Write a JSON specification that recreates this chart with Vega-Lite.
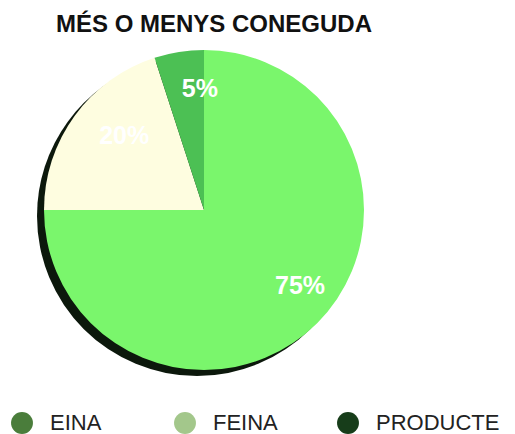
{
  "$schema": "https://vega.github.io/schema/vega-lite/v6.json",
  "width": 408,
  "height": 332,
  "padding": {"left": 0, "top": 13, "right": 0, "bottom": 0},
  "background": "white",
  "title": {"text": "MÉS O MENYS CONEGUDA", "font": "Liberation Sans", "fontSize": 24, "fontWeight": "bold", "color": "#111111", "anchor": "middle", "dx": 10, "offset": 7},
  "config": {"view": {"stroke": null}},
  "data": {"values": [
    {"categoria": "PRODUCTE", "valor": 75, "etiqueta": "75%", "ordre": 1},
    {"categoria": "FEINA", "valor": 20, "etiqueta": "20%", "ordre": 2},
    {"categoria": "EINA", "valor": 5, "etiqueta": "5%", "ordre": 3}
  ]},
  "resolve": {"scale": {"color": "independent"}, "legend": {"color": "independent"}},
  "layer": [
    {
      "mark": {"type": "arc", "radius": 160, "xOffset": -7, "yOffset": 6, "color": "#0c180c"},
      "encoding": {"theta": {"field": "valor", "type": "quantitative", "stack": true}}
    },
    {
      "mark": {"type": "arc", "radius": 160},
      "encoding": {
        "theta": {"field": "valor", "type": "quantitative", "stack": true},
        "order": {"field": "ordre", "type": "quantitative"},
        "color": {"field": "categoria", "type": "nominal", "scale": {"domain": ["EINA", "FEINA", "PRODUCTE"], "range": ["#4cc054", "#fefde0", "#7af66c"]}, "legend": null}
      }
    },
    {
      "mark": {"type": "text", "radius": 116, "xOffset": 14, "yOffset": -6, "font": "Liberation Sans", "fontSize": 25, "fontWeight": "bold", "color": "#ffffff"},
      "encoding": {
        "theta": {"field": "valor", "type": "quantitative", "stack": true},
        "order": {"field": "ordre", "type": "quantitative"},
        "text": {"field": "etiqueta", "type": "nominal"}
      }
    },
    {
      "mark": {"type": "point", "filled": true, "size": 0},
      "encoding": {
        "color": {"field": "categoria", "type": "nominal", "scale": {"domain": ["EINA", "FEINA", "PRODUCTE"], "range": ["#4a7d3b", "#a3c78b", "#173d1a"]},
          "legend": {"orient": "none", "legendX": 11, "legendY": 368, "direction": "horizontal", "title": null, "symbolType": "circle", "symbolSize": 480, "symbolOpacity": 1, "symbolStrokeWidth": 0, "labelFont": "Liberation Sans", "labelFontSize": 22, "labelColor": "#222222", "labelOffset": 17, "columnPadding": 0, "gridAlign": "all", "padding": 0}}
      }
    }
  ]
}
